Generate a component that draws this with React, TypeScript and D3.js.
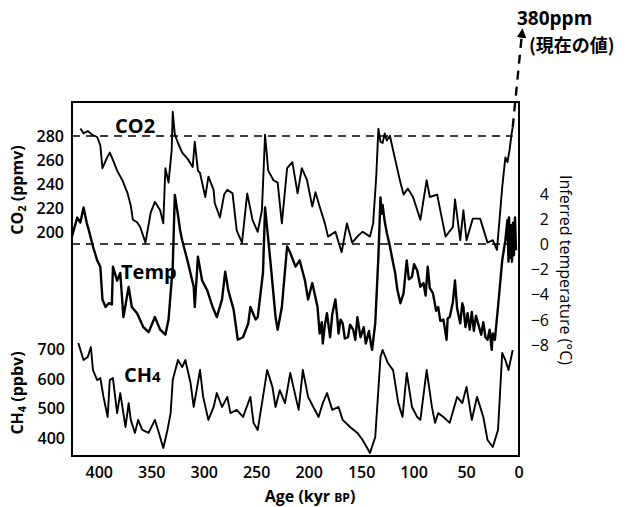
import React from 'react';
import * as d3 from 'd3';

// age (kyr BP), CO2 (ppmv)
const co2Data: [number, number][] = [
  [418, 287], [415, 283], [411, 285], [407, 282], [402, 280], [399, 273], [397, 254], [393, 262],
  [390, 267], [387, 261], [383, 252], [378, 244], [373, 233], [370, 223], [368, 211], [364, 209],
  [361, 205], [356, 192], [351, 217], [347, 226], [342, 219], [339, 208], [337, 254], [334, 242],
  [331, 269], [330, 301], [328, 282], [325, 275], [321, 267], [316, 262], [311, 255], [309, 276],
  [306, 252], [304, 250], [299, 230], [296, 247], [291, 236], [290, 225], [285, 213], [281, 232],
  [278, 236], [273, 233], [269, 202], [264, 192], [259, 233], [254, 211], [249, 201], [245, 219],
  [242, 282], [239, 252], [234, 244], [230, 242], [226, 208], [221, 254], [216, 259], [211, 233],
  [207, 254], [202, 244], [197, 222], [194, 234], [190, 222], [185, 208], [182, 197], [175, 201],
  [169, 184], [164, 208], [159, 192], [153, 198], [149, 201], [142, 197], [139, 208], [136, 248],
  [134, 287], [132, 276], [130, 275], [128, 283], [126, 277], [123, 281], [120, 269], [113, 242],
  [110, 232], [106, 237], [101, 230], [94, 211], [88, 244], [85, 230], [78, 232], [70, 197],
  [63, 205], [61, 228], [56, 194], [53, 219], [50, 194], [44, 212], [37, 212], [30, 192],
  [25, 194], [21, 186], [16, 238], [13, 263], [11, 259], [9, 269], [7, 283], [6, 288],
];

// age (kyr BP), inferred temperature (°C)
const tempData: [number, number][] = [
  [426, 0.6], [421, 2.1], [418, 1.7], [415, 2.9], [412, 1.7], [410, 1.1], [406, -0.2], [402, -1.3],
  [399, -1.8], [397, -4.4], [394, -5.0], [391, -4.7], [388, -4.8], [387, -1.8], [383, -2.9], [380, -2.3],
  [377, -5.8], [372, -3.4], [369, -5.0], [364, -5.5], [358, -6.6], [353, -7.0], [347, -5.8], [342, -6.8],
  [337, -7.2], [334, -6.0], [330, -1.8], [329, 1.1], [328, 3.9], [325, 2.3], [323, 1.1], [321, 0.3],
  [316, -1.3], [310, -3.4], [309, -5.0], [306, -1.0], [302, -2.9], [297, -3.7], [292, -5.0], [288, -5.8],
  [283, -4.4], [280, -2.2], [277, -3.7], [272, -5.2], [268, -7.6], [263, -7.4], [258, -6.3], [256, -5.0],
  [251, -6.0], [249, -5.8], [244, -2.3], [242, 2.9], [237, -1.3], [232, -5.8], [230, -6.8], [226, -5.0],
  [221, -0.2], [218, -0.7], [213, -1.8], [209, -1.3], [204, -2.9], [201, -4.4], [197, -3.1], [192, -5.0],
  [190, -7.1], [188, -6.2], [187, -7.9], [185, -6.4], [183, -5.5], [181, -6.8], [180, -7.4], [178, -5.6],
  [175, -4.4], [173, -6.0], [172, -7.1], [170, -6.0], [168, -6.3], [166, -7.5], [163, -7.4], [161, -6.4],
  [158, -6.8], [156, -7.6], [154, -5.8], [152, -6.9], [151, -7.4], [148, -6.6], [146, -7.9], [145, -7.6],
  [143, -6.9], [141, -8.0], [140, -8.4], [137, -6.3],
  [134, -1.0], [132, 3.7], [131, 2.4], [130, 3.1], [128, 1.8], [126, 0.9], [123, -0.2], [120, -1.5],
  [118, -2.3], [116, -3.6], [113, -4.7], [110, -3.9], [107, -1.3], [105, -2.8], [102, -2.6], [100, -1.6],
  [97, -2.1], [94, -3.4], [91, -3.1], [89, -4.1], [87, -1.8], [85, -3.5], [82, -3.9], [79, -5.3],
  [77, -5.0], [75, -6.1], [72, -6.0], [69, -7.6], [68, -5.9], [66, -5.8], [63, -4.6], [61, -2.9],
  [59, -5.1], [56, -6.3], [54, -4.7], [53, -5.0], [51, -6.6], [49, -5.5], [47, -6.8], [45, -5.4],
  [43, -6.9], [41, -5.7], [39, -6.3], [36, -7.2], [34, -6.2], [32, -7.4], [30, -7.6], [28, -6.8],
  [26, -8.4], [25, -7.1], [23, -7.6], [20, -5.0], [16, -1.3], [13, 0.3], [11, 1.9], [10, -1.4],
  [9.5, 2.1], [8.6, -1.1], [7.6, 1.5], [6.7, -1.4], [5.7, 1.7], [4.8, -0.9], [3.8, 2.1], [2.9, -0.5],
];

// age (kyr BP), CH4 (ppbv)
const ch4Data: [number, number][] = [
  [420, 724], [415, 666], [411, 676], [408, 710], [406, 632], [402, 598], [399, 605], [396, 541],
  [392, 473], [390, 598], [387, 605], [383, 486], [380, 554], [375, 439], [372, 520], [370, 463],
  [366, 419], [363, 463], [359, 429], [353, 419], [347, 463], [344, 429], [339, 368], [335, 429],
  [332, 486], [330, 598], [325, 666], [321, 642], [318, 666], [313, 588], [310, 507], [304, 632],
  [301, 541], [296, 463], [291, 507], [288, 554], [283, 507], [278, 541], [275, 486], [269, 497],
  [263, 473], [256, 541], [253, 453], [249, 429], [244, 541], [240, 632], [235, 575], [232, 507],
  [228, 564], [223, 520], [218, 622], [215, 575], [210, 497], [206, 632], [201, 541], [196, 507],
  [191, 473], [187, 520], [183, 554], [178, 497], [172, 507], [168, 463], [161, 439], [154, 419],
  [149, 395], [142, 351], [137, 405], [132, 676], [130, 700], [125, 656], [120, 632], [115, 520],
  [111, 473], [107, 622], [102, 507], [97, 473], [94, 463], [88, 632], [83, 507], [80, 453],
  [77, 486], [72, 473], [66, 453], [59, 541], [54, 520], [50, 575], [45, 463], [40, 541],
  [34, 473], [30, 395], [25, 371], [20, 429], [16, 690], [13, 666], [10, 632], [6, 700],
];

const ageTicks = [400, 350, 300, 250, 200, 150, 100, 50, 0];
const co2Ticks = [200, 220, 240, 260, 280];
const tempTicks = [4, 2, 0, -2, -4, -6, -8];
const ch4Ticks = [400, 500, 600, 700];

const W = 642;
const H = 507;
const frame = { left: 72, right: 519, top: 102, bottom: 456 };
const font = '"Open Sans", "DejaVu Sans", sans-serif';

const x = d3.scaleLinear().domain([426, 0]).range([frame.left, frame.right]);
const yCo2 = d3.scaleLinear().domain([200, 280]).range([233, 137]);
const yTemp = d3.scaleLinear().domain([-8, 4]).range([344.8, 193.6]);
const yCh4 = d3.scaleLinear().domain([400, 700]).range([438.5, 350]);

const fmt = (v: number) => (v < 0 ? '\u2212' + Math.abs(v) : String(v));

export default function App() {
  const co2Line = d3.line<[number, number]>().x(d => x(d[0])).y(d => yCo2(d[1]));
  const tempLine = d3.line<[number, number]>().x(d => x(d[0])).y(d => yTemp(d[1]));
  const ch4Line = d3.line<[number, number]>().x(d => x(d[0])).y(d => yCh4(d[1]));

  const last = co2Data[co2Data.length - 1];

  return (
    <svg width={W} height={H} style={{ position: 'absolute', left: 0, top: 0, background: '#fff' }}
      fontFamily={font}>
      <defs>
        <marker id="arr" viewBox="0 0 10 10" refX="5" refY="5" markerWidth="4" markerHeight="4" orient="auto">
          <path d="M0,0 L10,5 L0,10 z" fill="#000" />
        </marker>
      </defs>

      {/* frame */}
      <rect x={frame.left} y={frame.top} width={frame.right - frame.left} height={frame.bottom - frame.top}
        fill="none" stroke="#000" strokeWidth={2} />

      {/* reference dashed lines */}
      <line x1={frame.left} x2={x(6)} y1={yCo2(280) - 1} y2={yCo2(280) - 1} stroke="#000" strokeWidth={1.4} strokeDasharray="8,6" />
      <line x1={frame.left} x2={frame.right} y1={yTemp(0)} y2={yTemp(0)} stroke="#000" strokeWidth={1.4} strokeDasharray="8,6" />

      {/* series */}
      <path d={co2Line(co2Data) || ''} fill="none" stroke="#000" strokeWidth={1.9} strokeLinejoin="round" />
      <path d={tempLine(tempData) || ''} fill="none" stroke="#000" strokeWidth={2.4} strokeLinejoin="round" />
      <path d={ch4Line(ch4Data) || ''} fill="none" stroke="#000" strokeWidth={1.9} strokeLinejoin="round" />

      {/* present-day arrow */}
      <line x1={x(last[0])} y1={yCo2(last[1])} x2={522} y2={33} stroke="#000" strokeWidth={2.4}
        strokeDasharray="9,7" markerEnd="url(#arr)" />
      <text x={517} y={25} fontSize={19} fontWeight={700}>380ppm</text>
      <text x={529} y={52} fontSize={18} fontWeight={700} fontFamily='"Noto Sans CJK JP", sans-serif'>(現在の値)</text>

      {/* in-plot labels */}
      <text x={115} y={133} fontSize={20} fontWeight={700}>CO2</text>
      <text x={121} y={279} fontSize={20} fontWeight={700}>Temp</text>
      <text x={124} y={382} fontSize={20} fontWeight={700}>CH<tspan fontSize={15}>4</tspan></text>

      {/* x axis */}
      {ageTicks.map(t => (
        <text key={'a' + t} x={x(t)} y={478} fontSize={16} fontWeight={600} textAnchor="middle">{t}</text>
      ))}
      <text x={310} y={502} fontSize={16} fontWeight={700} textAnchor="middle">
        Age (kyr <tspan fontSize={12}>BP</tspan>)
      </text>

      {/* CO2 axis */}
      {co2Ticks.map(t => (
        <text key={'c' + t} x={64} y={yCo2(t) + 5} fontSize={16} fontWeight={600} textAnchor="end">{t}</text>
      ))}
      <text transform="translate(23,190) rotate(-90)" fontSize={16} fontWeight={700} textAnchor="middle">
        CO<tspan fontSize={11} dy={3}>2</tspan><tspan dy={-3}> (ppmv)</tspan>
      </text>

      {/* CH4 axis */}
      {ch4Ticks.map(t => (
        <text key={'m' + t} x={65} y={yCh4(t) + 5} fontSize={16} fontWeight={600} textAnchor="end">{t}</text>
      ))}
      <text transform="translate(23,393) rotate(-90)" fontSize={16} fontWeight={700} textAnchor="middle">
        CH<tspan fontSize={11} dy={3}>4</tspan><tspan dy={-3}> (ppbv)</tspan>
      </text>

      {/* temperature axis */}
      {tempTicks.map(t => (
        <text key={'t' + t} x={549} y={yTemp(t) + 6} fontSize={16} fontWeight={500} textAnchor="end">{fmt(t)}</text>
      ))}
      <text transform="translate(560,270) rotate(90)" fontSize={16} fontWeight={500} textAnchor="middle">
        Inferred temperature (°C)
      </text>
    </svg>
  );
}
